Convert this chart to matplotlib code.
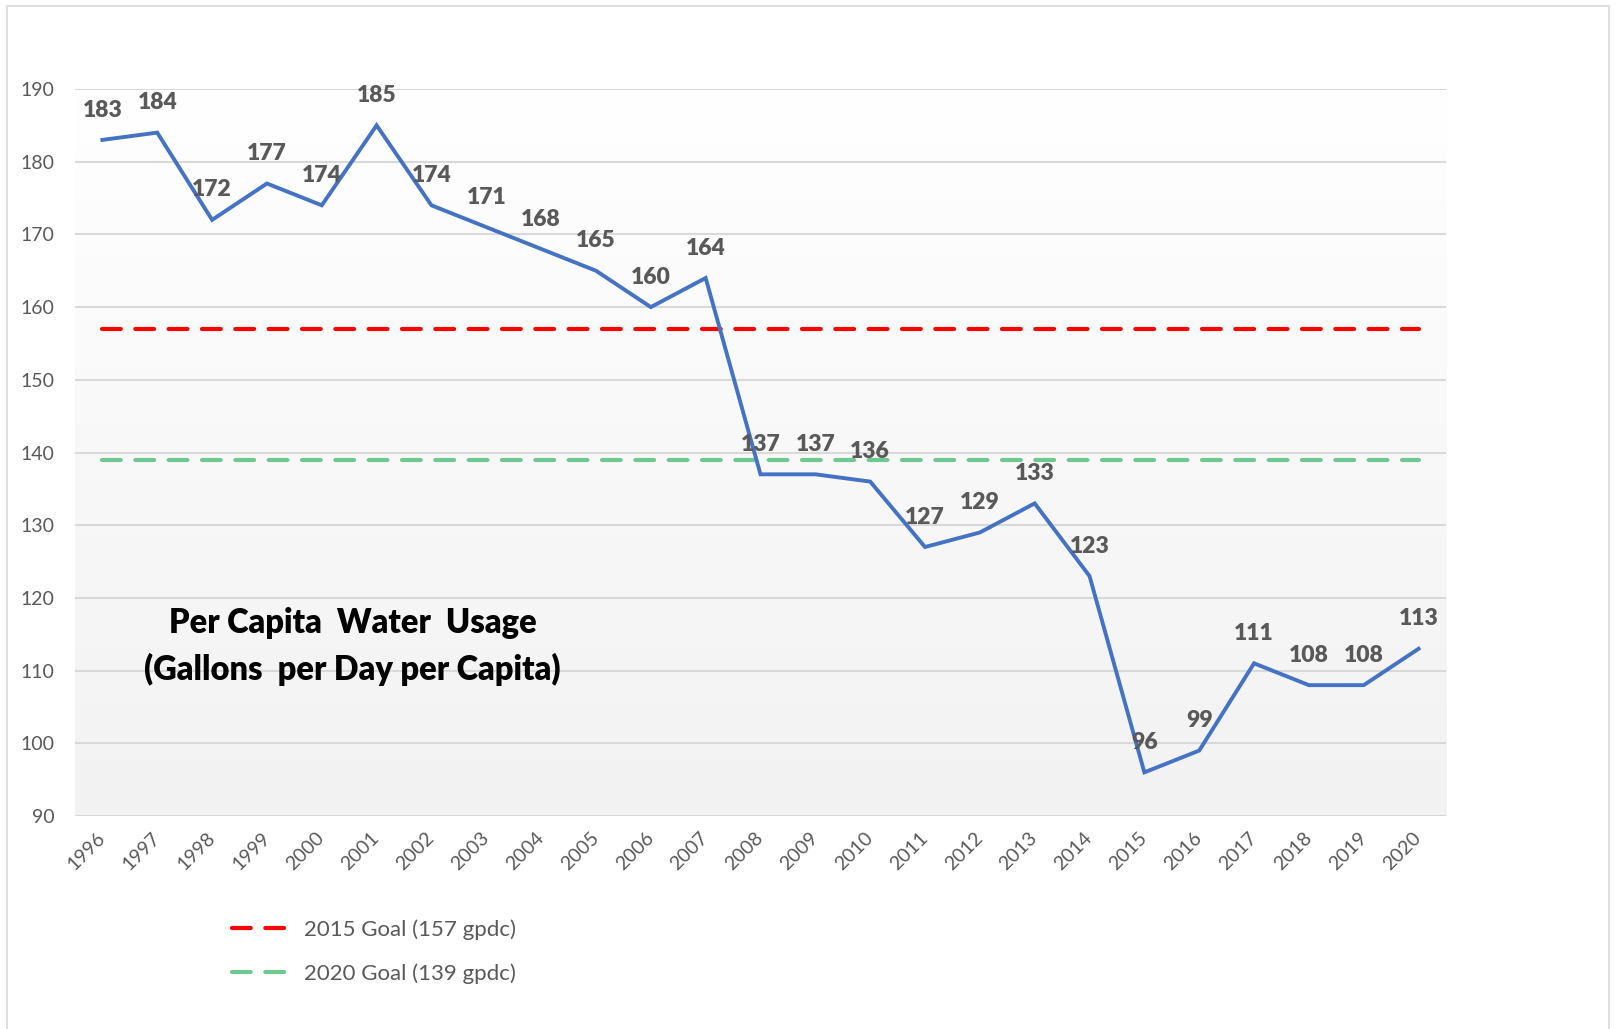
import numpy as np
import matplotlib
matplotlib.use("Agg")
import matplotlib.pyplot as plt
from matplotlib.colors import LinearSegmentedColormap
from matplotlib.patches import Rectangle

years = ["1996", "1997", "1998", "1999", "2000", "2001", "2002", "2003", "2004",
         "2005", "2006", "2007", "2008", "2009", "2010", "2011", "2012", "2013",
         "2014", "2015", "2016", "2017", "2018", "2019", "2020"]
usage = [183, 184, 172, 177, 174, 185, 174, 171, 168, 165, 160, 164, 137, 137,
         136, 127, 129, 133, 123, 96, 99, 111, 108, 108, 113]
goal_2015 = 157
goal_2020 = 139
goal_labels = ["2015 Goal (157 gpdc)", "2020 Goal (139 gpdc)"]
title_lines = ["Per Capita  Water  Usage", "(Gallons  per Day per Capita)"]
y_ticks = [90, 100, 110, 120, 130, 140, 150, 160, 170, 180, 190]

plt.rcParams['font.family'] = ['Lato', 'DejaVu Sans']

W, H = 1617, 1029
fig = plt.figure(figsize=(W / 100, H / 100), dpi=100)
fig.patch.set_facecolor("white")

# chart border
fig.patches.append(Rectangle((7 / W, -0.01), (W - 8.5 - 7) / W, 1 - 6 / H + 0.01,
                             transform=fig.transFigure, fill=False,
                             edgecolor="#d9d9d9", linewidth=1.2, zorder=0))

left, right, top, bottom = 75, 1446, 89, 816
ax = fig.add_axes([left / W, 1 - bottom / H, (right - left) / W, (bottom - top) / H])

n = len(years)
x = np.arange(n)
ax.set_xlim(-0.5, n - 0.5)
ax.set_ylim(90, 190)

# gradient background
cmap = LinearSegmentedColormap.from_list("bg", ["#f2f2f2", "#ffffff"])
grad = np.linspace(0, 1, 256).reshape(-1, 1)
ax.imshow(grad, cmap=cmap, aspect="auto", extent=(-0.5, n - 0.5, 90, 190),
          origin="lower", zorder=0)

for s in ax.spines.values():
    s.set_visible(False)

ax.set_yticks(y_ticks)
ax.yaxis.grid(True, color="#d9d9d9", linewidth=1.5, zorder=1)
ax.set_axisbelow(False)
ax.tick_params(axis="y", length=0, pad=15, labelsize=14, labelcolor="#595959")
ax.tick_params(axis="x", length=0, pad=14, labelsize=14, labelcolor="#595959")
ax.set_xticks(x)
ax.set_xticklabels(years, rotation=45, ha="right", va="center", rotation_mode="anchor")

l1, = ax.plot(x, np.full(n, goal_2015), color="#ff0000", linewidth=3,
              dashes=(4.5, 3.5), dash_capstyle="round", zorder=3, label=goal_labels[0])
l2, = ax.plot(x, np.full(n, goal_2020), color="#6fc88f", linewidth=3,
              dashes=(4.5, 3.5), dash_capstyle="round", zorder=3, label=goal_labels[1])
ax.plot(x, usage, color="#4472c4", linewidth=2.8, zorder=4, solid_joinstyle="miter")

for xi, v in zip(x, usage):
    ax.annotate(str(v), (xi, v), xytext=(0, 21.5), textcoords="offset points",
                ha="center", va="center", fontsize=16.5, fontweight="heavy",
                color="#595959", zorder=6)

ax.text(0.2025, 0.265, title_lines[0], transform=ax.transAxes, ha="center",
        va="center", fontsize=23.5, fontweight="heavy", color="black", zorder=6)
ax.text(0.2025, 0.201, title_lines[1], transform=ax.transAxes, ha="center",
        va="center", fontsize=23.5, fontweight="heavy", color="black", zorder=6)

leg = fig.legend(handles=[l1, l2], loc="upper left",
                 bbox_to_anchor=(212 / W, 1 - 899 / H), frameon=False,
                 fontsize=16, labelcolor="#595959", handlelength=2.55,
                 handletextpad=0.7, labelspacing=1.05)

fig.savefig("out.png", dpi=100, facecolor="white")
